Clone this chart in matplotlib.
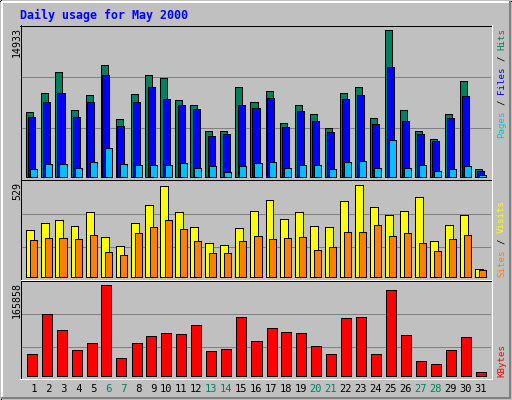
import numpy as np
import matplotlib
matplotlib.use("Agg")
import matplotlib.pyplot as plt
from matplotlib.lines import Line2D
from matplotlib.transforms import blended_transform_factory

# ---- data ----
title = "Daily usage for May 2000"
days = list(range(1, 32))
weekend_days = [6, 7, 13, 14, 20, 21, 27, 28]

hits = [6625, 8550, 10677, 6828, 8347, 11386, 5916, 8448, 10373, 10069, 7841,
        7334, 4700, 4700, 9158, 7638, 8752, 5511, 7334, 6422, 5004, 8550,
        9158, 6017, 14933, 6828, 4700, 3890, 6422, 9765, 851]
files = [6119, 7638, 8550, 6119, 7638, 10373, 5207, 7638, 9158, 7942, 7334,
         6929, 4194, 4396, 7334, 7030, 8043, 5106, 6726, 5713, 4599, 7942,
         8347, 5409, 11184, 5713, 4396, 3687, 6017, 8246, 648]
pages = [851, 1357, 1357, 952, 1560, 2978, 1357, 1256, 1256, 1256, 1459,
         952, 1155, 547, 1155, 1459, 1560, 952, 1256, 1256, 851, 1560,
         1661, 952, 3789, 952, 1256, 648, 851, 1155, 243]
visits = [271, 306, 328, 294, 369, 231, 180, 311, 414, 523, 369, 288, 197,
          185, 283, 380, 443, 334, 369, 294, 288, 437, 529, 403, 357, 380,
          460, 208, 300, 357, 48]
sites = [214, 225, 225, 220, 243, 145, 128, 254, 288, 328, 277, 208, 139,
         139, 208, 237, 220, 225, 231, 157, 174, 260, 260, 300, 237, 254,
         197, 151, 220, 243, 42]
kbytes = [40556, 113196, 84140, 47820, 60533, 165858, 33290, 60533, 73245,
          78690, 76876, 93220, 46000, 49634, 107750, 64165, 87775, 80510,
          78690, 55083, 40556, 105936, 107750, 40556, 156780, 75060, 27840,
          22393, 47820, 71430, 7866]

# ---- colours (webalizer palette) ----
BG = '#C0C0C0'
DKGREY = '#808080'
C_HITS = '#00805C'
C_FILES = '#0000FF'
C_PAGES = '#00C0FF'
C_VISITS = '#FFFF00'
C_SITES = '#FF8000'
C_KBYTES = '#FF0000'
MONO = 'DejaVu Sans Mono'

W, H = 512, 400
fig = plt.figure(figsize=(W / 100, H / 100), dpi=100, facecolor=BG)


def fx(c):
    return c / W


def fy(r):
    return 1 - r / H


def hline(r, c0, c1, color, thick=1):
    y = fy(r + thick / 2)
    fig.add_artist(Line2D([fx(c0), fx(c1 + 1)], [y, y], color=color,
                          lw=0.72 * thick, solid_capstyle='butt', antialiased=False))


def vline(c, r0, r1, color, thick=1):
    x = fx(c + thick / 2)
    fig.add_artist(Line2D([x, x], [fy(r0), fy(r1 + 1)], color=color,
                          lw=0.72 * thick, solid_capstyle='butt', antialiased=False))


PX = 1 / 15  # one pixel in day units (15 px per day)
x = np.array(days)


def panel(a_top, a_bot, base, top_row, vmax, grid_rows):
    ax = fig.add_axes([fx(21), fy(a_bot), fx(491) - fx(21), fy(a_top) - fy(a_bot)])
    ax.set_facecolor(BG)
    s = vmax / (base - top_row)
    ax.set_ylim(-(a_bot - base) * s, (base - a_top) * s)
    ax.set_xlim(1 - 2 / 3, 31 + 2 / 3)
    for r in grid_rows:
        ax.axhline((base - r - 0.5) * s, color=DKGREY, lw=0.72, zorder=0.5,
                   antialiased=False)
    ax.set_xticks([])
    ax.set_yticks([])
    for sp in ax.spines.values():
        sp.set_visible(False)
    return ax


bar_kw = dict(align='edge', edgecolor='black', lw=0.72, antialiased=False)

# top panel: hits / files / pages
ax1 = panel(26, 179, 177, 29.5, max(hits), [76, 127])
ax1.bar(x - 5.5 * PX, hits, width=7 * PX, color=C_HITS, **bar_kw)
ax1.bar(x - 3.5 * PX, files, width=7 * PX, color=C_FILES, **bar_kw)
ax1.bar(x - 1.5 * PX, pages, width=7 * PX, color=C_PAGES, **bar_kw)

# middle panel: visits / sites
ax2 = panel(181, 279, 277, 184.5, max(visits), [213, 246])
ax2.bar(x - 5.5 * PX, visits, width=8 * PX, color=C_VISITS, **bar_kw)
ax2.bar(x - 1.5 * PX, sites, width=7 * PX, color=C_SITES, **bar_kw)

# bottom panel: kbytes
ax3 = panel(281, 378, 376, 284.5, max(kbytes), [313, 346])
ax3.bar(x - 4.5 * PX, kbytes, width=10 * PX, color=C_KBYTES, **bar_kw)

# day labels
tr = blended_transform_factory(ax3.transData, fig.transFigure)
for d in days:
    col = C_HITS if d in weekend_days else 'black'
    ax3.text(d, fy(392.5), f"{d:2d}", transform=tr, ha='center', va='baseline',
             family=MONO, size=7.5, color=col)

# image bevel
hline(0, 0, 511, 'black')
hline(399, 0, 511, 'black')
vline(0, 0, 399, 'black')
vline(511, 0, 399, 'black')
hline(1, 1, 510, 'white', 2)
vline(1, 1, 398, 'white', 2)
hline(397, 1, 510, DKGREY, 2)
vline(509, 1, 398, DKGREY, 2)

# panel frames
hline(25, 20, 491, 'black')
vline(20, 25, 378, 'black')
hline(378, 20, 491, 'white')
vline(491, 25, 378, 'white')
hline(179, 21, 490, 'white')
hline(180, 21, 490, 'black')
hline(279, 21, 490, 'white')
hline(280, 21, 490, 'black')

# title
fig.text(fx(20), fy(19), title, family=MONO, weight='bold', size=8.4,
         color='#0000FF', ha='left', va='baseline')

# max values on the left
for val, row in [(max(hits), 27), (max(visits), 182), (max(kbytes), 282)]:
    fig.text(fx(20), fy(row), str(val), rotation=90, rotation_mode='anchor',
             ha='right', va='baseline', family=MONO, size=7.2, color='black')

# legends on the right, one coloured word at a time
adv = 0.602 * 6.6 * 100 / 72
legends = [
    (138.5, [("Pages", 0, C_PAGES), ("/", 6, 'black'), ("Files", 8, C_FILES),
             ("/", 14, 'black'), ("Hits", 16, C_HITS)]),
    (277, [("Sites", 0, C_SITES), ("/", 6, 'black'), ("Visits", 8, C_VISITS)]),
    (377, [("KBytes", 0, C_KBYTES)]),
]
for start, parts in legends:
    for word, k, col in parts:
        fig.text(fx(504), fy(start - k * adv), word, rotation=90,
                 rotation_mode='anchor', ha='left', va='baseline',
                 family=MONO, size=6.6, color=col)

fig.savefig("out.png", dpi=100, facecolor=BG)
